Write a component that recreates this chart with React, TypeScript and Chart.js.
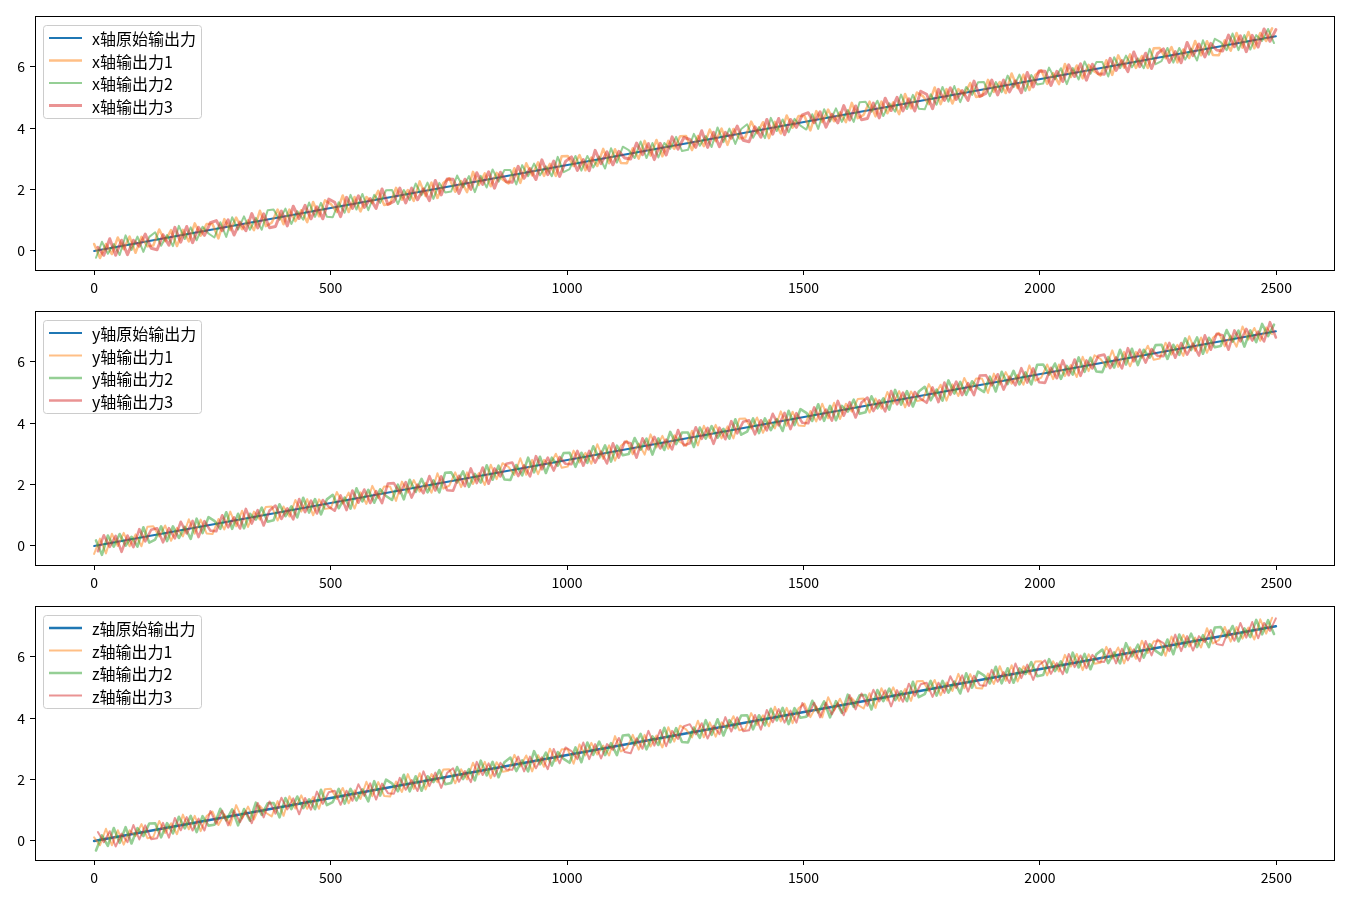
import React, { useEffect, useRef } from "react";
import { Chart, registerables } from "chart.js";

Chart.register(...registerables);

// ---------- data ----------
const xTicks = [0, 500, 1000, 1500, 2000, 2500];
const yTicks = [0, 2, 4, 6];

// sample positions (sample index) at which each noisy output was read
const sampleX1 = Array.from({ length: 200 }, (_, i) => (i * 2491) / 199);
const sampleX2 = sampleX1.map((x) => x + 4);
const sampleX3 = sampleX1.map((x) => x + 8);
const sampleXs = [sampleX1, sampleX2, sampleX3];

// raw output lines (straight lines through the band)
const rawX = [0, 2499];
const xRaw = [0.0, 7.0];
const yRaw = [0.0, 7.0];
const zRaw = [0.0, 7.0];

const xLabels = ["x轴原始输出力", "x轴输出力1", "x轴输出力2", "x轴输出力3"];
const yLabels = ["y轴原始输出力", "y轴输出力1", "y轴输出力2", "y轴输出力3"];
const zLabels = ["z轴原始输出力", "z轴输出力1", "z轴输出力2", "z轴输出力3"];

const xOut1 = [
  0.23, -0.23, 0.23, -0.10, 0.44, 0.06, 0.47, -0.06, 0.46, 0.15,
  0.18, 0.70, 0.32, 0.68, 0.16, 0.69, 0.31, 0.90, 0.50, 0.88,
  0.88, 0.41, 1.04, 0.68, 1.09, 0.71, 1.00, 0.68, 1.31, 0.81,
  0.92, 1.35, 0.87, 1.35, 0.97, 1.33, 0.94, 1.60, 1.13, 1.65,
  1.53, 1.27, 1.81, 1.27, 1.76, 1.29, 1.76, 1.57, 1.96, 1.50,
  1.54, 2.06, 1.67, 1.99, 1.63, 2.27, 1.79, 2.23, 1.73, 2.22,
  2.37, 1.93, 2.28, 1.92, 2.58, 2.15, 2.53, 2.11, 2.55, 2.33,
  2.20, 2.70, 2.22, 2.86, 2.46, 2.89, 2.45, 2.84, 2.45, 3.09,
  3.10, 2.77, 3.13, 2.63, 3.05, 2.77, 3.33, 2.86, 3.32, 2.87,
  2.86, 3.35, 3.01, 3.59, 3.11, 3.62, 3.09, 3.59, 3.33, 3.74,
  3.75, 3.29, 3.75, 3.42, 3.96, 3.58, 3.99, 3.46, 3.98, 3.67,
  3.70, 4.22, 3.84, 4.20, 3.68, 4.21, 3.83, 4.42, 4.02, 4.40,
  4.40, 3.93, 4.56, 4.20, 4.61, 4.23, 4.52, 4.20, 4.83, 4.33,
  4.44, 4.87, 4.39, 4.87, 4.49, 4.85, 4.46, 5.12, 4.65, 5.17,
  5.05, 4.79, 5.33, 4.79, 5.28, 4.81, 5.28, 5.09, 5.48, 5.02,
  5.06, 5.58, 5.19, 5.51, 5.15, 5.79, 5.31, 5.75, 5.25, 5.74,
  5.89, 5.45, 5.80, 5.44, 6.10, 5.67, 6.05, 5.63, 6.07, 5.85,
  5.72, 6.22, 5.74, 6.38, 5.98, 6.41, 5.97, 6.36, 5.97, 6.61,
  6.62, 6.29, 6.65, 6.15, 6.57, 6.29, 6.85, 6.38, 6.84, 6.39,
  6.38, 6.87, 6.53, 7.11, 6.63, 7.14, 6.61, 7.11, 6.85, 7.26,
];
const xOut2 = [
  -0.22, 0.30, -0.09, 0.23, -0.13, 0.51, 0.03, 0.47, -0.03, 0.46,
  0.61, 0.17, 0.52, 0.16, 0.82, 0.39, 0.77, 0.35, 0.79, 0.57,
  0.44, 0.94, 0.46, 1.10, 0.70, 1.13, 0.69, 1.08, 0.69, 1.33,
  1.35, 1.02, 1.38, 0.88, 1.30, 1.02, 1.58, 1.11, 1.57, 1.12,
  1.10, 1.59, 1.25, 1.83, 1.35, 1.86, 1.33, 1.83, 1.57, 1.98,
  1.99, 1.53, 1.99, 1.66, 2.20, 1.82, 2.23, 1.70, 2.22, 1.91,
  1.94, 2.46, 2.08, 2.44, 1.92, 2.45, 2.07, 2.66, 2.26, 2.64,
  2.64, 2.17, 2.80, 2.44, 2.85, 2.47, 2.76, 2.44, 3.07, 2.57,
  2.67, 3.10, 2.62, 3.10, 2.72, 3.08, 2.69, 3.35, 2.88, 3.40,
  3.29, 3.03, 3.57, 3.03, 3.52, 3.05, 3.52, 3.33, 3.72, 3.26,
  3.30, 3.82, 3.43, 3.75, 3.39, 4.03, 3.55, 3.99, 3.49, 3.98,
  4.13, 3.69, 4.04, 3.68, 4.34, 3.91, 4.29, 3.87, 4.31, 4.09,
  3.96, 4.46, 3.98, 4.62, 4.22, 4.65, 4.21, 4.60, 4.21, 4.85,
  4.87, 4.54, 4.90, 4.40, 4.82, 4.54, 5.10, 4.63, 5.09, 4.64,
  4.62, 5.11, 4.77, 5.35, 4.87, 5.38, 4.85, 5.35, 5.09, 5.50,
  5.51, 5.05, 5.51, 5.18, 5.72, 5.34, 5.75, 5.22, 5.74, 5.43,
  5.46, 5.98, 5.60, 5.96, 5.44, 5.97, 5.59, 6.18, 5.78, 6.16,
  6.16, 5.69, 6.32, 5.96, 6.37, 5.99, 6.28, 5.96, 6.59, 6.09,
  6.19, 6.62, 6.14, 6.62, 6.24, 6.60, 6.21, 6.87, 6.40, 6.92,
  6.81, 6.55, 7.09, 6.55, 7.04, 6.57, 7.04, 6.85, 7.24, 6.78,
];
const xOut3 = [
  0.12, -0.14, 0.40, -0.14, 0.35, -0.12, 0.35, 0.16, 0.55, 0.09,
  0.04, 0.53, 0.19, 0.77, 0.29, 0.80, 0.27, 0.77, 0.51, 0.92,
  0.99, 0.66, 1.02, 0.52, 0.94, 0.66, 1.22, 0.75, 1.21, 0.76,
  0.80, 1.30, 0.82, 1.46, 1.06, 1.49, 1.05, 1.44, 1.05, 1.69,
  1.59, 1.12, 1.75, 1.39, 1.80, 1.42, 1.71, 1.39, 2.02, 1.52,
  1.62, 2.05, 1.57, 2.05, 1.67, 2.03, 1.64, 2.30, 1.83, 2.35,
  2.34, 1.88, 2.34, 2.01, 2.55, 2.17, 2.58, 2.05, 2.57, 2.26,
  2.24, 2.76, 2.37, 2.69, 2.33, 2.97, 2.49, 2.93, 2.43, 2.92,
  3.07, 2.63, 2.98, 2.62, 3.28, 2.85, 3.23, 2.81, 3.25, 3.03,
  3.00, 3.52, 3.14, 3.50, 2.98, 3.51, 3.13, 3.72, 3.32, 3.70,
  3.64, 3.38, 3.92, 3.38, 3.87, 3.40, 3.87, 3.68, 4.07, 3.61,
  3.56, 4.05, 3.71, 4.29, 3.81, 4.32, 3.79, 4.29, 4.03, 4.44,
  4.51, 4.18, 4.54, 4.04, 4.46, 4.18, 4.74, 4.27, 4.73, 4.28,
  4.32, 4.82, 4.34, 4.98, 4.58, 5.01, 4.57, 4.96, 4.57, 5.21,
  5.11, 4.64, 5.27, 4.91, 5.32, 4.94, 5.23, 4.91, 5.54, 5.04,
  5.14, 5.57, 5.09, 5.57, 5.19, 5.55, 5.16, 5.82, 5.35, 5.87,
  5.86, 5.40, 5.86, 5.53, 6.07, 5.69, 6.10, 5.57, 6.09, 5.78,
  5.76, 6.28, 5.89, 6.21, 5.85, 6.49, 6.01, 6.45, 5.95, 6.44,
  6.59, 6.15, 6.50, 6.14, 6.80, 6.37, 6.75, 6.33, 6.77, 6.55,
  6.52, 7.04, 6.66, 7.02, 6.50, 7.03, 6.65, 7.24, 6.84, 7.22,
];

const yOut1 = [
  -0.26, 0.24, -0.24, 0.40, 0.00, 0.43, -0.01, 0.38, -0.01, 0.63,
  0.64, 0.31, 0.67, 0.17, 0.59, 0.31, 0.87, 0.40, 0.86, 0.41,
  0.39, 0.88, 0.54, 1.12, 0.64, 1.15, 0.62, 1.12, 0.86, 1.27,
  1.29, 0.83, 1.29, 0.96, 1.50, 1.12, 1.53, 1.00, 1.52, 1.21,
  1.24, 1.76, 1.38, 1.74, 1.22, 1.75, 1.37, 1.96, 1.56, 1.94,
  1.94, 1.47, 2.10, 1.74, 2.15, 1.77, 2.06, 1.74, 2.37, 1.87,
  1.97, 2.40, 1.92, 2.40, 2.02, 2.38, 1.99, 2.65, 2.18, 2.70,
  2.58, 2.32, 2.86, 2.32, 2.81, 2.34, 2.81, 2.62, 3.01, 2.55,
  2.59, 3.11, 2.72, 3.04, 2.68, 3.32, 2.84, 3.28, 2.78, 3.27,
  3.43, 2.99, 3.34, 2.98, 3.64, 3.21, 3.59, 3.17, 3.61, 3.39,
  3.26, 3.76, 3.28, 3.92, 3.52, 3.95, 3.51, 3.90, 3.51, 4.15,
  4.16, 3.83, 4.19, 3.69, 4.11, 3.83, 4.39, 3.92, 4.38, 3.93,
  3.91, 4.40, 4.06, 4.64, 4.16, 4.67, 4.14, 4.64, 4.38, 4.79,
  4.81, 4.35, 4.81, 4.48, 5.02, 4.64, 5.05, 4.52, 5.04, 4.73,
  4.76, 5.28, 4.90, 5.26, 4.74, 5.27, 4.89, 5.48, 5.08, 5.46,
  5.46, 4.99, 5.62, 5.26, 5.67, 5.29, 5.58, 5.26, 5.89, 5.39,
  5.49, 5.92, 5.44, 5.92, 5.54, 5.90, 5.51, 6.17, 5.70, 6.22,
  6.10, 5.84, 6.38, 5.84, 6.33, 5.86, 6.33, 6.14, 6.53, 6.07,
  6.11, 6.63, 6.24, 6.56, 6.20, 6.84, 6.36, 6.80, 6.30, 6.79,
  6.95, 6.51, 6.86, 6.50, 7.16, 6.73, 7.11, 6.69, 7.13, 6.91,
];
const yOut2 = [
  0.18, -0.29, 0.34, -0.02, 0.39, 0.01, 0.30, -0.02, 0.61, 0.11,
  0.21, 0.64, 0.16, 0.64, 0.26, 0.62, 0.23, 0.89, 0.42, 0.94,
  0.82, 0.56, 1.10, 0.56, 1.05, 0.58, 1.05, 0.86, 1.25, 0.79,
  0.84, 1.36, 0.97, 1.29, 0.93, 1.57, 1.09, 1.53, 1.03, 1.52,
  1.67, 1.23, 1.58, 1.22, 1.88, 1.45, 1.83, 1.41, 1.85, 1.63,
  1.50, 2.00, 1.52, 2.16, 1.76, 2.19, 1.75, 2.14, 1.75, 2.39,
  2.40, 2.07, 2.43, 1.93, 2.35, 2.07, 2.63, 2.16, 2.62, 2.17,
  2.15, 2.64, 2.30, 2.88, 2.40, 2.91, 2.38, 2.88, 2.62, 3.03,
  3.04, 2.58, 3.04, 2.71, 3.25, 2.87, 3.28, 2.75, 3.27, 2.96,
  3.00, 3.52, 3.14, 3.50, 2.98, 3.51, 3.13, 3.72, 3.32, 3.70,
  3.70, 3.23, 3.86, 3.50, 3.91, 3.53, 3.82, 3.50, 4.13, 3.63,
  3.73, 4.16, 3.68, 4.16, 3.78, 4.14, 3.75, 4.41, 3.94, 4.46,
  4.34, 4.08, 4.62, 4.08, 4.57, 4.10, 4.57, 4.38, 4.77, 4.31,
  4.36, 4.88, 4.49, 4.81, 4.45, 5.09, 4.61, 5.05, 4.55, 5.04,
  5.19, 4.75, 5.10, 4.74, 5.40, 4.97, 5.35, 4.93, 5.37, 5.15,
  5.02, 5.52, 5.04, 5.68, 5.28, 5.71, 5.27, 5.66, 5.27, 5.91,
  5.92, 5.59, 5.95, 5.45, 5.87, 5.59, 6.15, 5.68, 6.14, 5.69,
  5.67, 6.16, 5.82, 6.40, 5.92, 6.43, 5.90, 6.40, 6.14, 6.55,
  6.56, 6.10, 6.56, 6.23, 6.77, 6.39, 6.80, 6.27, 6.79, 6.48,
  6.52, 7.04, 6.66, 7.02, 6.50, 7.03, 6.65, 7.24, 6.84, 7.22,
];
const yOut3 = [
  -0.17, 0.35, -0.03, 0.33, -0.19, 0.34, -0.04, 0.55, 0.15, 0.53,
  0.58, 0.12, 0.58, 0.25, 0.79, 0.41, 0.82, 0.29, 0.81, 0.50,
  0.48, 1.00, 0.61, 0.93, 0.57, 1.21, 0.73, 1.17, 0.67, 1.16,
  1.32, 0.88, 1.23, 0.87, 1.53, 1.10, 1.48, 1.06, 1.50, 1.28,
  1.15, 1.65, 1.17, 1.81, 1.41, 1.84, 1.40, 1.79, 1.40, 2.04,
  2.05, 1.72, 2.08, 1.58, 2.00, 1.72, 2.28, 1.81, 2.27, 1.82,
  1.80, 2.29, 1.95, 2.53, 2.05, 2.56, 2.03, 2.53, 2.27, 2.68,
  2.72, 2.28, 2.63, 2.27, 2.93, 2.50, 2.88, 2.46, 2.90, 2.68,
  2.67, 3.10, 2.62, 3.10, 2.72, 3.08, 2.69, 3.35, 2.88, 3.40,
  3.35, 2.88, 3.51, 3.15, 3.56, 3.18, 3.47, 3.15, 3.78, 3.28,
  3.35, 3.87, 3.49, 3.85, 3.33, 3.86, 3.48, 4.07, 3.67, 4.05,
  4.10, 3.64, 4.10, 3.77, 4.31, 3.93, 4.34, 3.81, 4.33, 4.02,
  4.00, 4.52, 4.13, 4.45, 4.09, 4.73, 4.25, 4.69, 4.19, 4.68,
  4.84, 4.40, 4.75, 4.39, 5.05, 4.62, 5.00, 4.58, 5.02, 4.80,
  4.67, 5.17, 4.69, 5.33, 4.93, 5.36, 4.92, 5.31, 4.92, 5.56,
  5.57, 5.24, 5.60, 5.10, 5.52, 5.24, 5.80, 5.33, 5.79, 5.34,
  5.32, 5.81, 5.47, 6.05, 5.57, 6.08, 5.55, 6.05, 5.79, 6.20,
  6.24, 5.80, 6.15, 5.79, 6.45, 6.02, 6.40, 5.98, 6.42, 6.20,
  6.19, 6.62, 6.14, 6.62, 6.24, 6.60, 6.21, 6.87, 6.40, 6.92,
  6.87, 6.40, 7.03, 6.67, 7.08, 6.70, 6.99, 6.67, 7.30, 6.80,
];

const zOut1 = [
  0.12, -0.14, 0.40, -0.14, 0.35, -0.12, 0.35, 0.16, 0.55, 0.09,
  0.13, 0.65, 0.26, 0.58, 0.22, 0.86, 0.38, 0.82, 0.32, 0.81,
  0.96, 0.52, 0.87, 0.51, 1.17, 0.74, 1.12, 0.70, 1.14, 0.92,
  0.80, 1.30, 0.82, 1.46, 1.06, 1.49, 1.05, 1.44, 1.05, 1.69,
  1.70, 1.37, 1.73, 1.23, 1.65, 1.37, 1.93, 1.46, 1.92, 1.47,
  1.45, 1.94, 1.60, 2.18, 1.70, 2.21, 1.68, 2.18, 1.92, 2.33,
  2.34, 1.88, 2.34, 2.01, 2.55, 2.17, 2.58, 2.05, 2.57, 2.26,
  2.29, 2.81, 2.43, 2.79, 2.27, 2.80, 2.42, 3.01, 2.61, 2.99,
  2.99, 2.52, 3.15, 2.79, 3.20, 2.82, 3.11, 2.79, 3.42, 2.92,
  3.03, 3.46, 2.98, 3.46, 3.08, 3.44, 3.05, 3.71, 3.24, 3.76,
  3.64, 3.38, 3.92, 3.38, 3.87, 3.40, 3.87, 3.68, 4.07, 3.61,
  3.65, 4.17, 3.78, 4.10, 3.74, 4.38, 3.90, 4.34, 3.84, 4.33,
  4.48, 4.04, 4.39, 4.03, 4.69, 4.26, 4.64, 4.22, 4.66, 4.44,
  4.32, 4.82, 4.34, 4.98, 4.58, 5.01, 4.57, 4.96, 4.57, 5.21,
  5.22, 4.89, 5.25, 4.75, 5.17, 4.89, 5.45, 4.98, 5.44, 4.99,
  4.97, 5.46, 5.12, 5.70, 5.22, 5.73, 5.20, 5.70, 5.44, 5.85,
  5.86, 5.40, 5.86, 5.53, 6.07, 5.69, 6.10, 5.57, 6.09, 5.78,
  5.81, 6.33, 5.95, 6.31, 5.79, 6.32, 5.94, 6.53, 6.13, 6.51,
  6.51, 6.04, 6.67, 6.31, 6.72, 6.34, 6.63, 6.31, 6.94, 6.44,
  6.55, 6.98, 6.50, 6.98, 6.60, 6.96, 6.57, 7.23, 6.76, 7.28,
];
const zOut2 = [
  -0.31, 0.18, -0.16, 0.42, -0.06, 0.45, -0.08, 0.42, 0.16, 0.57,
  0.58, 0.12, 0.58, 0.25, 0.79, 0.41, 0.82, 0.29, 0.81, 0.50,
  0.53, 1.05, 0.67, 1.03, 0.51, 1.04, 0.66, 1.25, 0.85, 1.23,
  1.24, 0.77, 1.40, 1.04, 1.45, 1.07, 1.36, 1.04, 1.67, 1.17,
  1.27, 1.70, 1.22, 1.70, 1.32, 1.68, 1.29, 1.95, 1.48, 2.00,
  1.88, 1.62, 2.16, 1.62, 2.11, 1.64, 2.11, 1.92, 2.31, 1.85,
  1.89, 2.41, 2.02, 2.34, 1.98, 2.62, 2.14, 2.58, 2.08, 2.57,
  2.72, 2.28, 2.63, 2.27, 2.93, 2.50, 2.88, 2.46, 2.90, 2.68,
  2.55, 3.05, 2.57, 3.21, 2.81, 3.24, 2.80, 3.19, 2.80, 3.44,
  3.46, 3.13, 3.49, 2.99, 3.41, 3.13, 3.69, 3.22, 3.68, 3.23,
  3.21, 3.70, 3.36, 3.94, 3.46, 3.97, 3.44, 3.94, 3.68, 4.09,
  4.10, 3.64, 4.10, 3.77, 4.31, 3.93, 4.34, 3.81, 4.33, 4.02,
  4.05, 4.57, 4.19, 4.55, 4.03, 4.56, 4.18, 4.77, 4.37, 4.75,
  4.76, 4.29, 4.92, 4.56, 4.97, 4.59, 4.88, 4.56, 5.19, 4.69,
  4.79, 5.22, 4.74, 5.22, 4.84, 5.20, 4.81, 5.47, 5.00, 5.52,
  5.40, 5.14, 5.68, 5.14, 5.63, 5.16, 5.63, 5.44, 5.83, 5.37,
  5.41, 5.93, 5.54, 5.86, 5.50, 6.14, 5.66, 6.10, 5.60, 6.09,
  6.24, 5.80, 6.15, 5.79, 6.45, 6.02, 6.40, 5.98, 6.42, 6.20,
  6.07, 6.57, 6.09, 6.73, 6.33, 6.76, 6.32, 6.71, 6.32, 6.96,
  6.98, 6.65, 7.01, 6.51, 6.93, 6.65, 7.21, 6.74, 7.20, 6.75,
];
const zOut3 = [
  0.29, -0.04, 0.32, -0.18, 0.24, -0.04, 0.52, 0.05, 0.51, 0.06,
  0.09, 0.59, 0.11, 0.75, 0.35, 0.78, 0.34, 0.73, 0.34, 0.98,
  0.56, 0.99, 0.51, 0.99, 0.61, 0.97, 0.58, 1.24, 0.77, 1.29,
  0.89, 1.41, 1.03, 1.39, 0.87, 1.40, 1.02, 1.61, 1.21, 1.59,
  1.64, 1.18, 1.64, 1.31, 1.85, 1.47, 1.88, 1.35, 1.87, 1.56,
  1.54, 2.06, 1.67, 1.99, 1.63, 2.27, 1.79, 2.23, 1.73, 2.22,
  2.37, 1.93, 2.28, 1.92, 2.58, 2.15, 2.53, 2.11, 2.55, 2.33,
  2.32, 2.75, 2.27, 2.75, 2.37, 2.73, 2.34, 3.00, 2.53, 3.05,
  2.93, 2.67, 3.21, 2.67, 3.16, 2.69, 3.16, 2.97, 3.36, 2.90,
  2.86, 3.35, 3.01, 3.59, 3.11, 3.62, 3.09, 3.59, 3.33, 3.74,
  3.81, 3.48, 3.84, 3.34, 3.76, 3.48, 4.04, 3.57, 4.03, 3.58,
  3.61, 4.11, 3.63, 4.27, 3.87, 4.30, 3.86, 4.25, 3.86, 4.50,
  4.08, 4.51, 4.03, 4.51, 4.13, 4.49, 4.10, 4.76, 4.29, 4.81,
  4.41, 4.93, 4.55, 4.91, 4.39, 4.92, 4.54, 5.13, 4.73, 5.11,
  5.16, 4.70, 5.16, 4.83, 5.37, 4.99, 5.40, 4.87, 5.39, 5.08,
  5.06, 5.58, 5.19, 5.51, 5.15, 5.79, 5.31, 5.75, 5.25, 5.74,
  5.89, 5.45, 5.80, 5.44, 6.10, 5.67, 6.05, 5.63, 6.07, 5.85,
  5.84, 6.27, 5.79, 6.27, 5.89, 6.25, 5.86, 6.52, 6.05, 6.57,
  6.45, 6.19, 6.73, 6.19, 6.68, 6.21, 6.68, 6.49, 6.88, 6.42,
  6.38, 6.87, 6.53, 7.11, 6.63, 7.14, 6.61, 7.11, 6.85, 7.26,
];

// ---------- styles ----------
const COLORS = [
  "rgba(31,119,180,1)",
  "rgba(255,127,14,0.5)",
  "rgba(44,160,44,0.5)",
  "rgba(214,39,40,0.5)",
];
const FONT = "'Noto Sans CJK SC', 'DejaVu Sans', sans-serif";

type Panel = {
  labels: string[];
  raw: number[];
  outs: number[][];
  widths: number[];
  top: number;
};

const panels: Panel[] = [
  { labels: xLabels, raw: xRaw, outs: [xOut1, xOut2, xOut3], widths: [2, 2.5, 2, 3], top: 0 },
  { labels: yLabels, raw: yRaw, outs: [yOut1, yOut2, yOut3], widths: [2, 2, 2.6, 2.6], top: 295 },
  { labels: zLabels, raw: zRaw, outs: [zOut1, zOut2, zOut3], widths: [2.6, 2, 2.6, 2], top: 590 },
];

const CANVAS_W = 1352;
const CANVAS_H = 300;

const framePlugin = {
  id: "frameAndLegend",
  afterDraw(chart: any) {
    const { ctx, chartArea } = chart;
    const { left, top, right, bottom } = chartArea;
    ctx.save();
    // spines
    ctx.strokeStyle = "#000";
    ctx.lineWidth = 1;
    ctx.strokeRect(left + 0.5, top - 0.5, right - left - 1, bottom - top + 1);

    // legend
    const labels: string[] = chart.options.plugins.customLegend.labels;
    const widths: number[] = chart.options.plugins.customLegend.widths;
    const bx = left + 8.5;
    const by = top + 8.5;
    const bw = 158;
    const bh = 93;
    ctx.beginPath();
    ctx.roundRect(bx, by, bw, bh, 3);
    ctx.fillStyle = "rgba(255,255,255,0.8)";
    ctx.fill();
    ctx.strokeStyle = "#cccccc";
    ctx.lineWidth = 1;
    ctx.stroke();
    ctx.font = `16px ${FONT}`;
    ctx.textBaseline = "middle";
    ctx.textAlign = "left";
    labels.forEach((lab, i) => {
      const y = top + 21 + i * 22.5;
      ctx.beginPath();
      ctx.strokeStyle = COLORS[i];
      ctx.lineWidth = widths[i];
      ctx.moveTo(left + 14, y);
      ctx.lineTo(left + 47, y);
      ctx.stroke();
      ctx.fillStyle = "#000";
      ctx.fillText(lab, left + 57, y + 1);
    });
    ctx.restore();
  },
};

function PanelChart({ panel }: { panel: Panel }) {
  const ref = useRef<HTMLCanvasElement | null>(null);
  useEffect(() => {
    if (!ref.current) return;
    const datasets: any[] = [];
    datasets.push({
      label: panel.labels[0],
      data: rawX.map((x, i) => ({ x, y: panel.raw[i] })),
      borderColor: COLORS[0],
      borderWidth: panel.widths[0],
      order: 3,
    });
    panel.outs.forEach((arr, k) => {
      datasets.push({
        label: panel.labels[k + 1],
        data: sampleXs[k].map((x, i) => ({ x, y: arr[i] })),
        borderColor: COLORS[k + 1],
        borderWidth: panel.widths[k + 1],
        order: 2 - k,
      });
    });
    const chart = new Chart(ref.current, {
      type: "line",
      data: { datasets },
      options: {
        animation: false,
        responsive: false,
        maintainAspectRatio: false,
        events: [],
        layout: { padding: { top: 17, right: 17, left: 0, bottom: 0 } },
        elements: {
          point: { radius: 0, hoverRadius: 0 },
          line: { tension: 0, fill: false, borderCapStyle: "round", borderJoinStyle: "round" },
        },
        plugins: {
          legend: { display: false },
          tooltip: { enabled: false },
          customLegend: { labels: panel.labels, widths: panel.widths },
        } as any,
        scales: {
          x: {
            type: "linear",
            min: -125,
            max: 2624,
            afterBuildTicks: (s: any) => {
              s.ticks = xTicks.map((v) => ({ value: v }));
            },
            afterFit: (s: any) => {
              s.height = 30;
            },
            grid: { drawOnChartArea: false, drawTicks: true, tickLength: 5, color: "#000", lineWidth: 1 },
            border: { display: false },
            ticks: {
              color: "#000",
              font: { family: FONT, size: 14 },
              padding: 4,
              maxRotation: 0,
              autoSkip: false,
              callback: (v: any) => String(v),
            },
          },
          y: {
            type: "linear",
            min: -0.62,
            max: 7.63,
            afterBuildTicks: (s: any) => {
              s.ticks = yTicks.map((v) => ({ value: v }));
            },
            afterFit: (s: any) => {
              s.width = 35;
            },
            grid: { drawOnChartArea: false, drawTicks: true, tickLength: 5, color: "#000", lineWidth: 1 },
            border: { display: false },
            ticks: {
              color: "#000",
              font: { family: FONT, size: 14 },
              padding: 5,
              autoSkip: false,
              callback: (v: any) => String(v),
            },
          },
        },
      },
      plugins: [framePlugin],
    });
    return () => chart.destroy();
  }, [panel]);
  return (
    <canvas
      ref={ref}
      width={CANVAS_W}
      height={CANVAS_H}
      style={{ position: "absolute", left: 0, top: panel.top, width: CANVAS_W, height: CANVAS_H }}
    />
  );
}

export default function App() {
  return (
    <div
      style={{
        position: "absolute",
        left: 0,
        top: 0,
        width: 1352,
        height: 901,
        background: "#fff",
        overflow: "hidden",
      }}
    >
      {panels.map((p, i) => (
        <PanelChart key={i} panel={p} />
      ))}
    </div>
  );
}
